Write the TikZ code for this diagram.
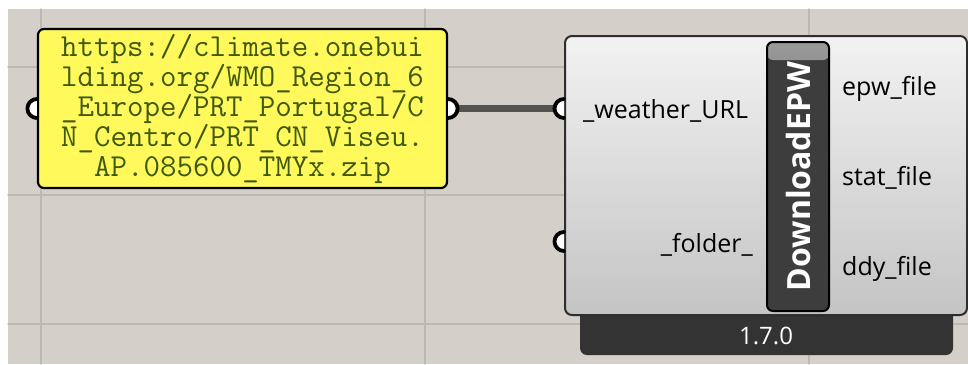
\documentclass[tikz,border=0pt]{standalone}
\usepackage{fontspec}
\setmainfont{Open Sans}
\definecolor{canvas}{HTML}{D4CFC8}
\definecolor{gridln}{HTML}{BDB8B1}
\definecolor{panelY}{HTML}{FFF95C}
\definecolor{panelT}{HTML}{3F5A0C}
\definecolor{compTop}{HTML}{F2F2F2}
\definecolor{compMid}{HTML}{DDDDDD}
\definecolor{compBot}{HTML}{C4C4C4}
\definecolor{compEdge}{HTML}{2E2E2E}
\definecolor{barDark}{HTML}{3D3D3D}
\definecolor{barLite}{HTML}{9A9A9A}
\definecolor{verbar}{HTML}{333333}
\definecolor{wireC}{HTML}{53534F}

\tikzset{
  grip/.style={fill=white,draw=black,line width=3.8pt},
  wire/.style={draw=wireC,line width=7pt,line cap=butt},
  plabel/.style={font=\fontsize{25}{25}\selectfont,text=black,inner sep=0pt},
}

\begin{document}
\begin{tikzpicture}[x=1pt,y=-1pt,line cap=round,line join=round]
  \useasboundingbox (0,0) rectangle (968,364);

  % canvas with its grid
  \fill[white] (0,0) rectangle (968,364);
  \fill[canvas] (8,9) rectangle (968,364);
  \foreach \gx in {41,425,809}
    \draw[gridln,line width=1.3pt] (\gx,9) -- (\gx,364);
  \foreach \gy in {67,195,324}
    \draw[gridln,line width=1.3pt] (8,\gy) -- (968,\gy);

  % panel holding the url
  \node[draw=black,line width=2.2pt,rounded corners=6pt,fill=panelY,
        text=panelT,align=center,minimum width=409pt,minimum height=159pt,
        inner sep=0pt,font=\ttfamily\fontsize{32}{30}\selectfont]
    (url) at (242.5,108.5)
    {https://climate.onebui\\lding.org/WMO\_Region\_6\\\_Europe/PRT\_Portugal/C\\N\_Centro/PRT\_CN\_Viseu.\\AP.085600\_TMYx.zip};

  % version tag under the component
  \fill[verbar,rounded corners=7pt] (580,296) rectangle (953,355);
  \node[font=\fontsize{24}{24}\selectfont,text=white,anchor=base,inner sep=0pt]
    (ver) at (766,344) {1.7.0};

  % component body
  \node[draw=compEdge,line width=2pt,rounded corners=7pt,
        top color=compTop,middle color=compMid,bottom color=compBot,
        minimum width=402pt,minimum height=279pt,inner sep=0pt]
    (comp) at (766,175.5) {};
  \node[draw=black,line width=2pt,rounded corners=6pt,fill=barDark,
        minimum width=62pt,minimum height=269pt,inner sep=0pt,
        path picture={\shade[top color=barLite,bottom color=barDark]
          (path picture bounding box.north west) rectangle
          ([yshift=-18pt]path picture bounding box.north east);}]
    (nick) at (798,176.5) {};
  \node[rotate=90,text=white,inner sep=0pt,
        font=\bfseries\fontsize{32}{32}\selectfont]
    (nicktxt) at (nick.center) {DownloadEPW};

  % inputs and outputs
  \node[plabel,anchor=base west] (wurl) at (583,118) {\_weather\_URL};
  \node[plabel,anchor=base east] (fold) at (753,252) {\_folder\_};
  \node[plabel,anchor=base west] (epw) at (842,95) {epw\_file};
  \node[plabel,anchor=base west] (stat) at (842,185) {stat\_file};
  \node[plabel,anchor=base west] (ddy) at (842,275) {ddy\_file};

  \coordinate (in1) at (comp.west |- url.east);
  \path (comp.west) ++(0,66) coordinate (in2);

  % wire, then the grips over its ends
  \draw[wire] (url.east) -- (in1);
  \draw[grip] (url.west) ++(0,9.5) arc[start angle=90,end angle=270,radius=9.5];
  \draw[grip] (url.east) ++(0,-9.5) arc[start angle=-90,end angle=90,radius=9.5];
  \draw[grip] (in1) ++(0,9.5) arc[start angle=90,end angle=270,radius=9.5];
  \draw[grip] (in2) ++(0,9.5) arc[start angle=90,end angle=270,radius=9.5];

\end{tikzpicture}
\end{document}
